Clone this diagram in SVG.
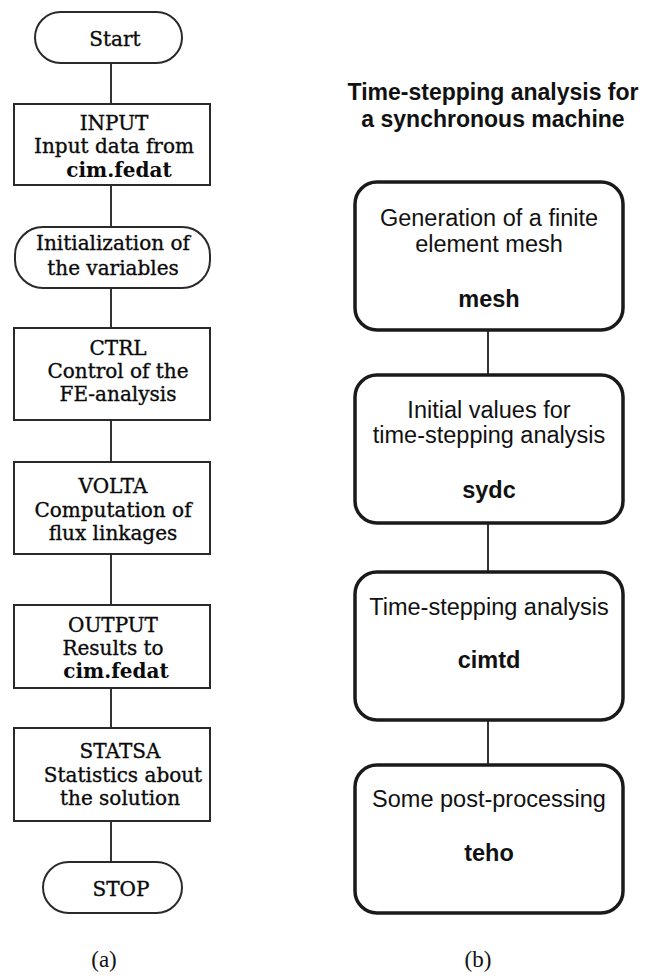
<svg xmlns="http://www.w3.org/2000/svg" width="646" height="978" viewBox="0 0 646 978">
<style>
.bg{fill:#fff}
.lbox{fill:#fff;stroke:#2a2a2a;stroke-width:2}
.rbox{fill:#fff;stroke:#1a1a1a;stroke-width:3.5}
.conn{stroke:#333;stroke-width:2;fill:none}
.st{font-family:"DejaVu Serif","Liberation Serif",serif;font-size:20px;fill:#0a0a0a;stroke:#0a0a0a;stroke-width:0.35;text-anchor:middle}
.stb{font-family:"DejaVu Serif","Liberation Serif",serif;font-size:20px;font-weight:bold;fill:#0a0a0a;text-anchor:middle}
.ss{font-family:"Liberation Sans",Arial,sans-serif;font-size:23.5px;fill:#111;text-anchor:middle}
.ssb{font-family:"Liberation Sans",Arial,sans-serif;font-size:23.5px;font-weight:bold;fill:#111;text-anchor:middle}
.tt{font-family:"Liberation Sans",Arial,sans-serif;font-size:23px;font-weight:bold;fill:#111;text-anchor:middle}
.cap{font-family:"Liberation Serif","DejaVu Serif",serif;font-size:23px;fill:#111;text-anchor:middle}
</style>
<rect class="bg" x="0" y="0" width="646" height="978"/>
<g id="connectors">
<line class="conn" x1="111" y1="63" x2="111" y2="104"/>
<line class="conn" x1="111" y1="185" x2="111" y2="227"/>
<line class="conn" x1="111" y1="288" x2="111" y2="328"/>
<line class="conn" x1="111" y1="420" x2="111" y2="462"/>
<line class="conn" x1="111" y1="554" x2="111" y2="605"/>
<line class="conn" x1="111" y1="688" x2="111" y2="728"/>
<line class="conn" x1="111" y1="821" x2="111" y2="862"/>
<line class="conn" x1="488" y1="330" x2="488" y2="375"/>
<line class="conn" x1="488" y1="523" x2="488" y2="572"/>
<line class="conn" x1="488" y1="720" x2="488" y2="765"/>
</g>
<g id="start">
<rect class="lbox" x="35" y="12" width="147" height="51" rx="25.5"/>
<text class="st" x="115" y="46">Start</text>
</g>
<g id="input">
<rect class="lbox" x="14" y="104" width="196" height="81"/>
<text class="st" x="114" y="130">INPUT</text>
<text class="st" x="114" y="153">Input data from</text>
<text class="stb" x="119" y="177">cim.fedat</text>
</g>
<g id="init">
<rect class="lbox" x="15" y="227" width="195" height="61" rx="28"/>
<text class="st" x="113" y="250">Initialization of</text>
<text class="st" x="113" y="275">the variables</text>
</g>
<g id="ctrl">
<rect class="lbox" x="14" y="328" width="196" height="92"/>
<text class="st" x="118" y="355">CTRL</text>
<text class="st" x="118" y="378">Control of the</text>
<text class="st" x="118" y="401">FE-analysis</text>
</g>
<g id="volta">
<rect class="lbox" x="14" y="462" width="196" height="92"/>
<text class="st" x="113" y="493">VOLTA</text>
<text class="st" x="113" y="517">Computation of</text>
<text class="st" x="113" y="540">flux linkages</text>
</g>
<g id="output">
<rect class="lbox" x="14" y="605" width="196" height="83"/>
<text class="st" x="113" y="632">OUTPUT</text>
<text class="st" x="113" y="655">Results to</text>
<text class="stb" x="116" y="678">cim.fedat</text>
</g>
<g id="statsa">
<rect class="lbox" x="14" y="728" width="196" height="93"/>
<text class="st" x="120" y="758">STATSA</text>
<text class="st" x="123" y="782">Statistics about</text>
<text class="st" x="120" y="805">the solution</text>
</g>
<g id="stop">
<rect class="lbox" x="43" y="862" width="139" height="51" rx="25.5"/>
<text class="st" x="121" y="896">STOP</text>
</g>
<text class="cap" x="104" y="967">(a)</text>
<g id="title">
<text class="tt" x="493" y="100">Time-stepping analysis for</text>
<text class="tt" x="493" y="127">a synchronous machine</text>
</g>
<g id="mesh">
<rect class="rbox" x="355" y="182" width="268" height="148" rx="22"/>
<text class="ss" x="489" y="226">Generation of a finite</text>
<text class="ss" x="489" y="252">element mesh</text>
<text class="ssb" x="489" y="307">mesh</text>
</g>
<g id="sydc">
<rect class="rbox" x="355" y="375" width="268" height="148" rx="22"/>
<text class="ss" x="489" y="418">Initial values for</text>
<text class="ss" x="489" y="443">time-stepping analysis</text>
<text class="ssb" x="489" y="498">sydc</text>
</g>
<g id="cimtd">
<rect class="rbox" x="355" y="572" width="268" height="148" rx="22"/>
<text class="ss" x="489" y="615">Time-stepping analysis</text>
<text class="ssb" x="489" y="668">cimtd</text>
</g>
<g id="teho">
<rect class="rbox" x="355" y="765" width="268" height="148" rx="22"/>
<text class="ss" x="489" y="807">Some post-processing</text>
<text class="ssb" x="489" y="861">teho</text>
</g>
<text class="cap" x="478" y="967">(b)</text>
</svg>
